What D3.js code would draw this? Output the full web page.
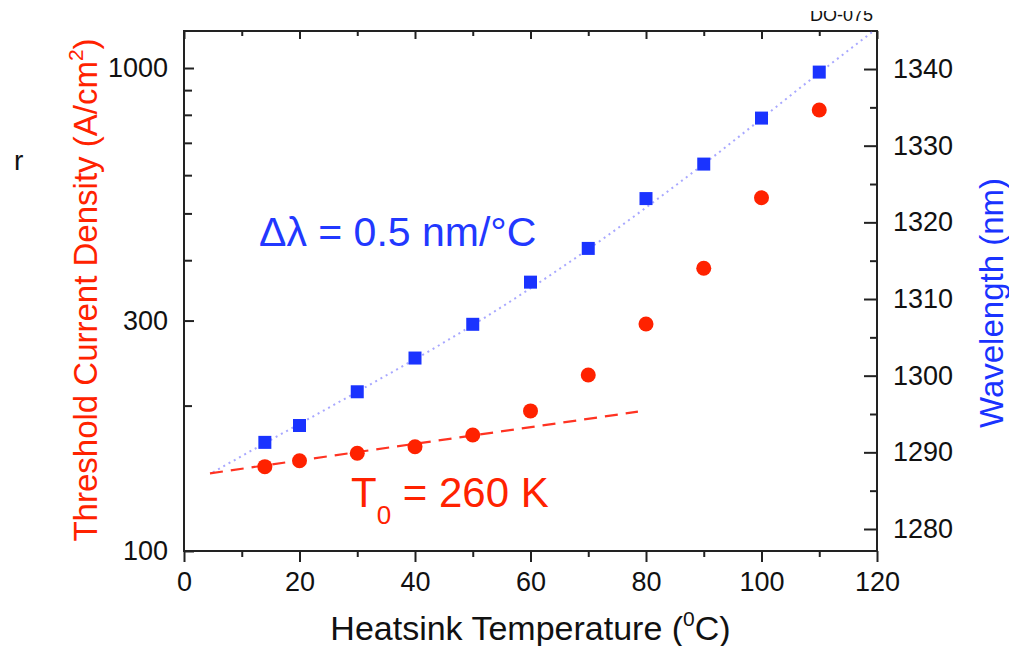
<!DOCTYPE html>
<html>
<head>
<meta charset="utf-8">
<script src="https://cdn.jsdelivr.net/npm/d3@7"></script>
<style>
  html, body { margin: 0; padding: 0; background: #fff; }
  svg { display: block; font-family: "Liberation Sans", Arial, Helvetica, sans-serif; }
</style>
</head>
<body>
<svg id="chart" width="1009" height="646"></svg>
<script>
// ---- data ----
const temperatures = [14, 20, 30, 40, 50, 60, 70, 80, 90, 100, 110];
const thresholdCurrent = [149.5, 153.8, 159.4, 164.4, 173.9, 195.0, 231.4, 295.1, 384.9, 538.9, 818.5];
const wavelength = [1291.3, 1293.5, 1297.9, 1302.3, 1306.7, 1312.2, 1316.6, 1323.1, 1327.6, 1333.6, 1339.6];
// fit curves
const t0FitT = [4.5, 78.6];
const t0FitJ = [144.8, 194.3];
const wlFitT = [5, 14, 30, 50, 70, 90, 110, 120];
const wlFitL = [1287.4, 1291.2, 1297.9, 1306.6, 1316.5, 1327.6, 1339.5, 1345.3];
// ticks
const xTicksMajor = [0, 20, 40, 60, 80, 100, 120];
const xTicksMinor = [10, 30, 50, 70, 90, 110];
const yLeftLabelled = [100, 300, 1000];
const yLeftMinor = [200, 400, 500, 600, 700, 800, 900];
const yRightMajor = [1280, 1290, 1300, 1310, 1320, 1330, 1340];
const yRightMinor = [1285, 1295, 1305, 1315, 1325, 1335];

const RED = "#ff2200", BLUE = "#1a33ff";
const L = 184, R = 877, T = 31, B = 551;

const svg = d3.select("#chart");
const x = d3.scaleLinear().domain([0, 120]).range([L, R]);
const yL = d3.scaleLog().domain([100, 1193]).range([B, T]);
const yR = d3.scaleLinear().domain([1277.13, 1344.96]).range([B, T]);

svg.append("clipPath").attr("id", "plotclip")
  .append("rect").attr("x", L).attr("y", T).attr("width", R - L).attr("height", B - T);

// ---- axes ----
function styleAxis(g) {
  g.select(".domain").remove();
  g.selectAll("line").attr("stroke", "#222").attr("stroke-width", 2);
  g.selectAll("text").attr("fill", "#111").attr("font-size", 27)
    .attr("font-family", "Liberation Sans, Arial, sans-serif");
}
// bottom
svg.append("g").attr("transform", `translate(0,${B})`)
  .call(d3.axisBottom(x).tickValues(xTicksMajor).tickSize(11).tickPadding(10).tickFormat(d3.format("d")))
  .call(styleAxis);
svg.append("g").attr("transform", `translate(0,${B})`)
  .call(d3.axisBottom(x).tickValues(xTicksMinor).tickSize(6).tickFormat(""))
  .call(styleAxis);
// top (inward)
svg.append("g").attr("transform", `translate(0,${T})`)
  .call(d3.axisTop(x).tickValues(xTicksMajor).tickSize(-8).tickFormat(""))
  .call(styleAxis);
svg.append("g").attr("transform", `translate(0,${T})`)
  .call(d3.axisTop(x).tickValues(xTicksMinor).tickSize(-5).tickFormat(""))
  .call(styleAxis);
// left (log, inward)
svg.append("g").attr("transform", `translate(${L},0)`)
  .call(d3.axisLeft(yL).tickValues(yLeftLabelled).tickSize(-10).tickPadding(16).tickFormat(d3.format("d")))
  .call(styleAxis);
svg.append("g").attr("transform", `translate(${L},0)`)
  .call(d3.axisLeft(yL).tickValues(yLeftMinor).tickSize(-8).tickFormat(""))
  .call(styleAxis);
// right (inward)
svg.append("g").attr("transform", `translate(${R},0)`)
  .call(d3.axisRight(yR).tickValues(yRightMajor).tickSize(-13).tickPadding(16).tickFormat(d3.format("d")))
  .call(styleAxis);
svg.append("g").attr("transform", `translate(${R},0)`)
  .call(d3.axisRight(yR).tickValues(yRightMinor).tickSize(-7).tickFormat(""))
  .call(styleAxis);

// frame
svg.append("rect").attr("x", L).attr("y", T).attr("width", R - L).attr("height", B - T)
  .attr("fill", "none").attr("stroke", "#222").attr("stroke-width", 2);

// ---- fit lines ----
const plot = svg.append("g").attr("clip-path", "url(#plotclip)");
const wlFit = wlFitT.map((t, i) => [t, wlFitL[i]]);
plot.append("path").datum(wlFit)
  .attr("d", d3.line().x(d => x(d[0])).y(d => yR(d[1])).curve(d3.curveMonotoneX))
  .attr("fill", "none").attr("stroke", "#a8a8ff").attr("stroke-width", 2)
  .attr("stroke-dasharray", "2,4");
const t0Fit = t0FitT.map((t, i) => [t, t0FitJ[i]]);
plot.append("path").datum(t0Fit)
  .attr("d", d3.line().x(d => x(d[0])).y(d => yL(d[1])))
  .attr("fill", "none").attr("stroke", "#ff3322").attr("stroke-width", 2.2)
  .attr("stroke-dasharray", "13,8");

// ---- points ----
const sq = 13;
plot.selectAll("rect.wl").data(temperatures).join("rect").attr("class", "wl")
  .attr("x", (d) => x(d) - sq / 2)
  .attr("y", (d, i) => yR(wavelength[i]) - sq / 2)
  .attr("width", sq).attr("height", sq).attr("fill", BLUE);
plot.selectAll("circle.jth").data(temperatures).join("circle").attr("class", "jth")
  .attr("cx", d => x(d))
  .attr("cy", (d, i) => yL(thresholdCurrent[i]))
  .attr("r", 7.5).attr("fill", RED);

// ---- annotations ----
svg.append("text").attr("x", 259).attr("y", 246).attr("font-size", 41).attr("fill", "#2238ff")
  .text("Δλ = 0.5 nm/°C");
const t0 = svg.append("text").attr("x", 351).attr("y", 507).attr("font-size", 42).attr("fill", RED);
t0.append("tspan").text("T");
t0.append("tspan").attr("font-size", 26).attr("dy", 17).text("0");
t0.append("tspan").attr("dy", -17).text(" = 260 K");

// ---- axis titles ----
const xt = svg.append("text").attr("x", (L + R) / 2).attr("y", 640).attr("text-anchor", "middle")
  .attr("font-size", 34).attr("fill", "#111");
xt.append("tspan").text("Heatsink Temperature (");
xt.append("tspan").attr("font-size", 21).attr("dy", -14).text("0");
xt.append("tspan").attr("dy", 14).text("C)");

const ylt = svg.append("text").attr("transform", `translate(97,290) rotate(-90)`)
  .attr("text-anchor", "middle").attr("font-size", 33).attr("fill", RED);
ylt.append("tspan").text("Threshold Current Density (A/cm");
ylt.append("tspan").attr("font-size", 21).attr("dy", -14).text("2");
ylt.append("tspan").attr("dy", 14).text(")");

svg.append("text").attr("transform", `translate(1003,303) rotate(-90)`)
  .attr("text-anchor", "middle").attr("font-size", 33).attr("fill", BLUE)
  .text("Wavelength (nm)");

svg.append("text").attr("x", 14).attr("y", 170).attr("font-size", 28).attr("fill", "#111").text("r");

svg.append("text").attr("x", 810).attr("y", 21).attr("font-size", 18).attr("fill", "#111").text("DO-075");
svg.append("rect").attr("x", 790).attr("y", 0).attr("width", 110).attr("height", 11).attr("fill", "#fff");
</script>
</body>
</html>
